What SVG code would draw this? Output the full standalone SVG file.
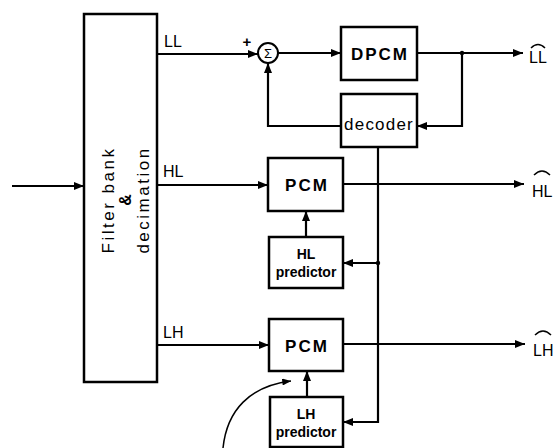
<svg xmlns="http://www.w3.org/2000/svg" width="553" height="448" viewBox="0 0 553 448">
<defs>
<marker id="ah" viewBox="0 0 10 8" refX="10" refY="4" markerWidth="10" markerHeight="8" markerUnits="userSpaceOnUse" orient="auto">
<path d="M0,0 L10,4 L0,8 Z" fill="#000"/>
</marker>
<marker id="ahs" viewBox="0 0 10 8" refX="10" refY="4" markerWidth="9" markerHeight="7" markerUnits="userSpaceOnUse" orient="auto">
<path d="M0,0 L10,4 L0,8 Z" fill="#000"/>
</marker>
</defs>
<style>
.box{fill:#fff;stroke:#000;stroke-width:2.5}
.ln{fill:none;stroke:#000;stroke-width:2.2}
.t{font-family:"Liberation Sans",Arial,sans-serif;fill:#000}
.big{font-size:17px;letter-spacing:2px;text-anchor:middle;font-weight:bold}
.sm{font-size:14px;text-anchor:middle;font-weight:bold}
.lab{font-size:16px}
</style>
<rect width="553" height="448" fill="#fff"/>

<g id="filterbank">
<rect class="box" x="84" y="14" width="73" height="368"/>
<g transform="translate(120,200) rotate(-90)">
<text class="t" x="0" y="-6" font-size="17" letter-spacing="2.5" text-anchor="middle">Filter bank</text>
<text class="t" x="0" y="11" font-size="16" font-weight="bold" text-anchor="middle">&amp;</text>
<text class="t" x="0" y="29" font-size="17" letter-spacing="2.5" text-anchor="middle">decimation</text>
</g>
</g>

<g id="sum">
<circle cx="268" cy="53" r="10" fill="#fff" stroke="#000" stroke-width="2"/>
<text class="t" x="268" y="58" font-size="13" text-anchor="middle" font-family="'Liberation Serif',serif">Σ</text>
<text class="t" x="247" y="47" font-size="15" font-weight="bold" text-anchor="middle">+</text>
</g>

<g id="dpcm">
<rect class="box" x="341" y="27" width="76" height="53"/>
<text class="t big" x="380" y="60">DPCM</text>
</g>

<g id="decoder">
<rect class="box" x="341" y="94" width="76" height="53"/>
<text class="t" x="379" y="130" font-size="17" letter-spacing="1.2" text-anchor="middle">decoder</text>
</g>

<g id="pcm-hl">
<rect class="box" x="268" y="158" width="75" height="53"/>
<text class="t big" x="307" y="191">PCM</text>
</g>

<g id="hl-predictor">
<rect class="box" x="269" y="237" width="74" height="51"/>
<text class="t sm" x="306" y="259">HL</text>
<text class="t sm" x="306" y="277">predictor</text>
</g>

<g id="pcm-lh">
<rect class="box" x="269" y="319" width="74" height="52"/>
<text class="t big" x="307" y="352">PCM</text>
</g>

<g id="lh-predictor">
<rect class="box" x="270" y="397" width="73" height="50"/>
<text class="t sm" x="306" y="419">LH</text>
<text class="t sm" x="306" y="437">predictor</text>
</g>

<g id="labels">
<text class="t lab" x="164" y="47">LL</text>
<text class="t lab" x="163" y="177">HL</text>
<text class="t lab" x="163" y="338">LH</text>
<text class="t lab" x="529" y="63">LL</text>
<path d="M531,48 Q538,41 545,48" fill="none" stroke="#000" stroke-width="1.5"/>
<text class="t lab" x="532" y="197">HL</text>
<path d="M534,175 Q542,167 550,175" fill="none" stroke="#000" stroke-width="1.5"/>
<text class="t lab" x="533" y="356">LH</text>
<path d="M535,335 Q543,327 551,335" fill="none" stroke="#000" stroke-width="1.5"/>
</g>

<g id="connectors">
<line class="ln" x1="12" y1="186" x2="84" y2="186" marker-end="url(#ah)"/>
<line class="ln" x1="157" y1="54" x2="258" y2="54" marker-end="url(#ah)"/>
<line class="ln" x1="278" y1="53" x2="341" y2="53" marker-end="url(#ah)"/>
<line class="ln" x1="417" y1="53" x2="523" y2="53" marker-end="url(#ah)"/>
<circle cx="462" cy="53" r="2.2" fill="#000"/>
<polyline class="ln" points="462,53 462,126 417,126" marker-end="url(#ah)"/>
<polyline class="ln" points="341,126 268,126 268,63" marker-end="url(#ah)"/>
<line class="ln" x1="157" y1="185" x2="268" y2="185" marker-end="url(#ah)"/>
<line class="ln" x1="343" y1="184" x2="524" y2="184" marker-end="url(#ah)"/>
<line class="ln" x1="306" y1="237" x2="306" y2="211" marker-end="url(#ah)"/>
<polyline class="ln" points="378,147 378,422 343,422" marker-end="url(#ah)"/>
<line class="ln" x1="378" y1="263" x2="343" y2="263" marker-end="url(#ah)"/>
<circle cx="378" cy="263" r="2.2" fill="#000"/>
<line class="ln" x1="157" y1="345" x2="269" y2="345" marker-end="url(#ah)"/>
<line class="ln" x1="343" y1="344" x2="525" y2="344" marker-end="url(#ah)"/>
<line class="ln" x1="307" y1="397" x2="307" y2="371" marker-end="url(#ah)"/>
<path d="M223,448 C227,410 250,386 291,381" fill="none" stroke="#000" stroke-width="1.5" marker-end="url(#ahs)"/>
</g>
</svg>
